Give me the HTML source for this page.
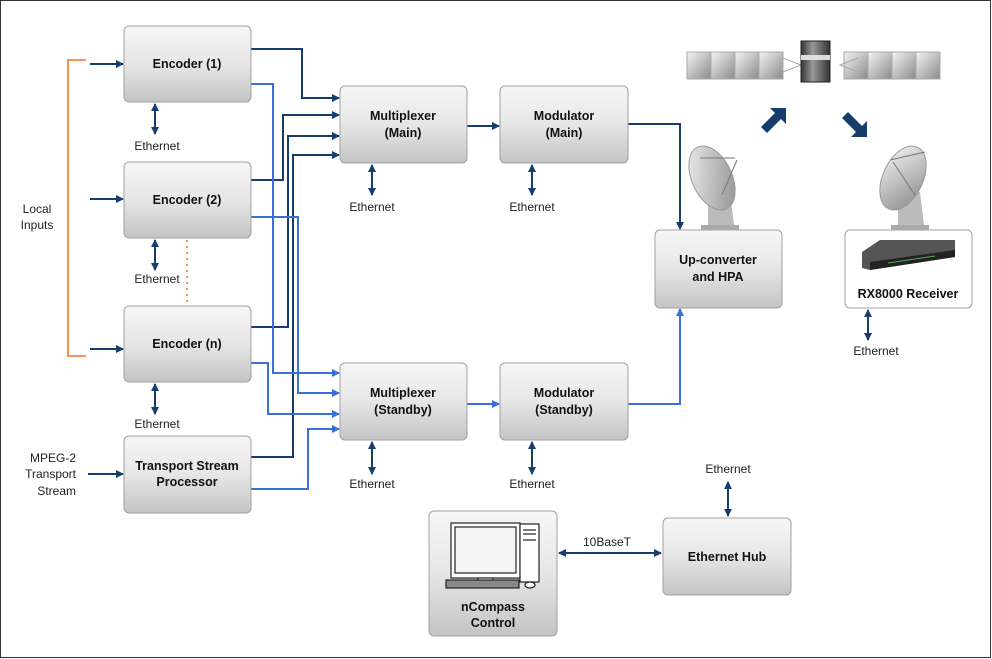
<!DOCTYPE html>
<html><head><meta charset="utf-8"><style>
html,body{margin:0;padding:0;background:#fff}
svg{display:block;font-family:"Liberation Sans",Arial,sans-serif}
</style></head><body>
<svg width="992" height="659" viewBox="0 0 992 659" xmlns="http://www.w3.org/2000/svg">
<defs>
<linearGradient id="g" x1="0" y1="0" x2="0" y2="1"><stop offset="0" stop-color="#f7f7f7"/><stop offset="0.5" stop-color="#e6e6e6"/><stop offset="1" stop-color="#c4c4c4"/></linearGradient>
<linearGradient id="p" x1="0" y1="0" x2="1" y2="1"><stop offset="0" stop-color="#f4f4f4"/><stop offset="1" stop-color="#8a8a8a"/></linearGradient>
<linearGradient id="b" x1="0" y1="0" x2="1" y2="0"><stop offset="0" stop-color="#333"/><stop offset="0.4" stop-color="#999"/><stop offset="1" stop-color="#333"/></linearGradient>
<marker id="ad" markerWidth="8" markerHeight="8" refX="7" refY="4" orient="auto" markerUnits="userSpaceOnUse"><path d="M0,0 L8,4 L0,8 z" fill="#163d6e"/></marker>
<marker id="al" markerWidth="8" markerHeight="8" refX="7" refY="4" orient="auto" markerUnits="userSpaceOnUse"><path d="M0,0 L8,4 L0,8 z" fill="#3a6fd8"/></marker>
<marker id="as" markerWidth="8" markerHeight="8" refX="7" refY="4" orient="auto-start-reverse" markerUnits="userSpaceOnUse"><path d="M0,0 L8,4 L0,8 z" fill="#163d6e"/></marker>
</defs>
<rect x="0.5" y="0.5" width="990" height="657" fill="#fff" stroke="#333"/>

<!-- orange bracket -->
<path d="M86,60 H68 V356 H86" fill="none" stroke="#f07020" stroke-width="1.5"/>
<line x1="187" y1="240" x2="187" y2="305" stroke="#f07020" stroke-width="1.5" stroke-dasharray="2,4"/>
<text x="37" y="213" font-size="12" text-anchor="middle" fill="#222">Local</text>
<text x="37" y="229" font-size="12" text-anchor="middle" fill="#222">Inputs</text>
<text x="76" y="462" font-size="12" text-anchor="end" fill="#222">MPEG-2</text>
<text x="76" y="478" font-size="12" text-anchor="end" fill="#222">Transport</text>
<text x="76" y="495" font-size="12" text-anchor="end" fill="#222">Stream</text>

<g stroke="#163d6e" stroke-width="2" fill="none">
<line x1="90" y1="64" x2="123" y2="64" marker-end="url(#ad)"/>
<line x1="90" y1="199" x2="123" y2="199" marker-end="url(#ad)"/>
<line x1="90" y1="349" x2="123" y2="349" marker-end="url(#ad)"/>
<line x1="88" y1="474" x2="123" y2="474" marker-end="url(#ad)"/>
<path d="M251,49 H302 V98 H339" marker-end="url(#ad)"/>
<path d="M251,180 H283 V115 H339" marker-end="url(#ad)"/>
<path d="M251,327 H288 V136 H339" marker-end="url(#ad)"/>
<path d="M251,457 H293 V155 H339" marker-end="url(#ad)"/>
<path d="M467,126 H499" marker-end="url(#ad)"/>
<path d="M628,124 H680 V229" marker-end="url(#ad)"/>
</g>
<g stroke="#3a6fd8" stroke-width="2" fill="none">
<path d="M251,84 H273 V373 H339" marker-end="url(#al)"/>
<path d="M251,217 H298 V393 H339" marker-end="url(#al)"/>
<path d="M251,363 H268 V414 H339" marker-end="url(#al)"/>
<path d="M251,489 H308 V429 H339" marker-end="url(#al)"/>
<path d="M467,404 H499" marker-end="url(#al)"/>
<path d="M628,404 H680 V309" marker-end="url(#al)"/>
</g>
<!-- ethernet double arrows -->
<g stroke="#163d6e" stroke-width="2" fill="none">
<line x1="155" y1="104" x2="155" y2="134" marker-start="url(#as)" marker-end="url(#as)"/>
<line x1="155" y1="240" x2="155" y2="270" marker-start="url(#as)" marker-end="url(#as)"/>
<line x1="155" y1="384" x2="155" y2="414" marker-start="url(#as)" marker-end="url(#as)"/>
<line x1="372" y1="165" x2="372" y2="195" marker-start="url(#as)" marker-end="url(#as)"/>
<line x1="532" y1="165" x2="532" y2="195" marker-start="url(#as)" marker-end="url(#as)"/>
<line x1="372" y1="442" x2="372" y2="474" marker-start="url(#as)" marker-end="url(#as)"/>
<line x1="532" y1="442" x2="532" y2="474" marker-start="url(#as)" marker-end="url(#as)"/>
<line x1="868" y1="310" x2="868" y2="340" marker-start="url(#as)" marker-end="url(#as)"/>
<line x1="728" y1="482" x2="728" y2="516" marker-start="url(#as)" marker-end="url(#as)"/>
<line x1="559" y1="553" x2="661" y2="553" marker-start="url(#as)" marker-end="url(#as)"/>
</g>
<g font-size="12" fill="#222" text-anchor="middle">
<text x="157" y="150">Ethernet</text>
<text x="157" y="283">Ethernet</text>
<text x="157" y="428">Ethernet</text>
<text x="372" y="211">Ethernet</text>
<text x="532" y="211">Ethernet</text>
<text x="372" y="488">Ethernet</text>
<text x="532" y="488">Ethernet</text>
<text x="876" y="355">Ethernet</text>
<text x="728" y="473">Ethernet</text>
<text x="607" y="546">10BaseT</text>
</g>

<!-- boxes -->
<g stroke="#a0a0a0" stroke-width="1" fill="url(#g)">
<rect x="124" y="26" width="127" height="76" rx="5"/>
<rect x="124" y="162" width="127" height="76" rx="5"/>
<rect x="124" y="306" width="127" height="76" rx="5"/>
<rect x="124" y="436" width="127" height="77" rx="5"/>
<rect x="340" y="86" width="127" height="77" rx="5"/>
<rect x="500" y="86" width="128" height="77" rx="5"/>
<rect x="340" y="363" width="127" height="77" rx="5"/>
<rect x="500" y="363" width="128" height="77" rx="5"/>
<rect x="655" y="230" width="127" height="78" rx="5"/>
<rect x="429" y="511" width="128" height="125" rx="5"/>
<rect x="663" y="518" width="128" height="77" rx="5"/>
</g>
<rect x="845" y="230" width="127" height="78" rx="5" fill="#fff" stroke="#a0a0a0"/>
<g font-size="12.5" font-weight="bold" fill="#111" text-anchor="middle">
<text x="187" y="68">Encoder (1)</text>
<text x="187" y="204">Encoder (2)</text>
<text x="187" y="348">Encoder (n)</text>
<text x="187" y="470">Transport Stream</text>
<text x="187" y="486">Processor</text>
<text x="403" y="120">Multiplexer</text>
<text x="403" y="137">(Main)</text>
<text x="564" y="120">Modulator</text>
<text x="564" y="137">(Main)</text>
<text x="403" y="397">Multiplexer</text>
<text x="403" y="414">(Standby)</text>
<text x="564" y="397">Modulator</text>
<text x="564" y="414">(Standby)</text>
<text x="718" y="264">Up-converter</text>
<text x="718" y="281">and HPA</text>
<text x="908" y="298">RX8000 Receiver</text>
<text x="493" y="611">nCompass</text>
<text x="493" y="627">Control</text>
<text x="727" y="561">Ethernet Hub</text>
</g>

<!-- satellite -->
<g stroke="#aaa" stroke-width="1" fill="url(#p)">
<rect x="687" y="52" width="24" height="27"/><rect x="711" y="52" width="24" height="27"/><rect x="735" y="52" width="24" height="27"/><rect x="759" y="52" width="24" height="27"/>
<rect x="844" y="52" width="24" height="27"/><rect x="868" y="52" width="24" height="27"/><rect x="892" y="52" width="24" height="27"/><rect x="916" y="52" width="24" height="27"/>
</g>
<path d="M783,58 L801,65 L783,72 M858,58 L840,65 L858,72" stroke="#aaa" fill="none"/>
<rect x="801" y="41" width="29" height="41" fill="url(#b)" stroke="#222"/>
<rect x="801" y="55" width="29" height="5" fill="#ddd"/>
<!-- big arrows -->
<path d="M761,127 L775,113 L770,108 L786,108 L786,124 L781,119 L767,133 z" fill="#163d6e"/>
<path d="M842,118 L856,132 L851,137 L867,137 L867,121 L862,126 L848,112 z" fill="#163d6e"/>
<!-- dishes -->
<g>
<rect x="701" y="225" width="38" height="5" fill="#aaa"/>
<path d="M708,225 L708,205 Q712,192 730,192 L734,225 z" fill="#bbb"/>
<ellipse cx="712" cy="178" rx="20" ry="34" transform="rotate(-25 712 178)" fill="url(#p)" stroke="#999"/>
<line x1="700" y1="158" x2="735" y2="158" stroke="#777"/><line x1="737" y1="160" x2="722" y2="195" stroke="#777"/>
<rect x="891" y="225" width="38" height="5" fill="#aaa"/>
<path d="M898,225 L898,205 Q902,192 920,192 L924,225 z" fill="#bbb"/>
<ellipse cx="903" cy="178" rx="20" ry="34" transform="rotate(25 903 178)" fill="url(#p)" stroke="#999"/>
<line x1="890" y1="160" x2="925" y2="152" stroke="#777"/><line x1="893" y1="162" x2="915" y2="195" stroke="#777"/>
</g>
<!-- receiver -->
<path d="M862,252 L880,240 L955,240 L955,257 L870,270 L862,268 z" fill="#555"/>
<path d="M870,262 L955,250 L955,257 L870,270 z" fill="#222"/>
<line x1="888" y1="263" x2="935" y2="256" stroke="#5a5" stroke-width="1"/>
<!-- computer -->
<g fill="#fff" stroke="#222" stroke-width="1.2">
<rect x="451" y="523" width="69" height="55"/>
<rect x="455" y="527" width="61" height="46" fill="#f5f5f5"/>
<rect x="478" y="578" width="15" height="4"/>
<rect x="520" y="524" width="19" height="58"/>
<line x1="523" y1="530" x2="536" y2="530"/><line x1="523" y1="534" x2="536" y2="534"/><line x1="523" y1="540" x2="536" y2="540"/>
<rect x="446" y="580" width="73" height="8" fill="#888"/>
<ellipse cx="530" cy="585" rx="5" ry="3"/>
</g>
</svg>
</body></html>
